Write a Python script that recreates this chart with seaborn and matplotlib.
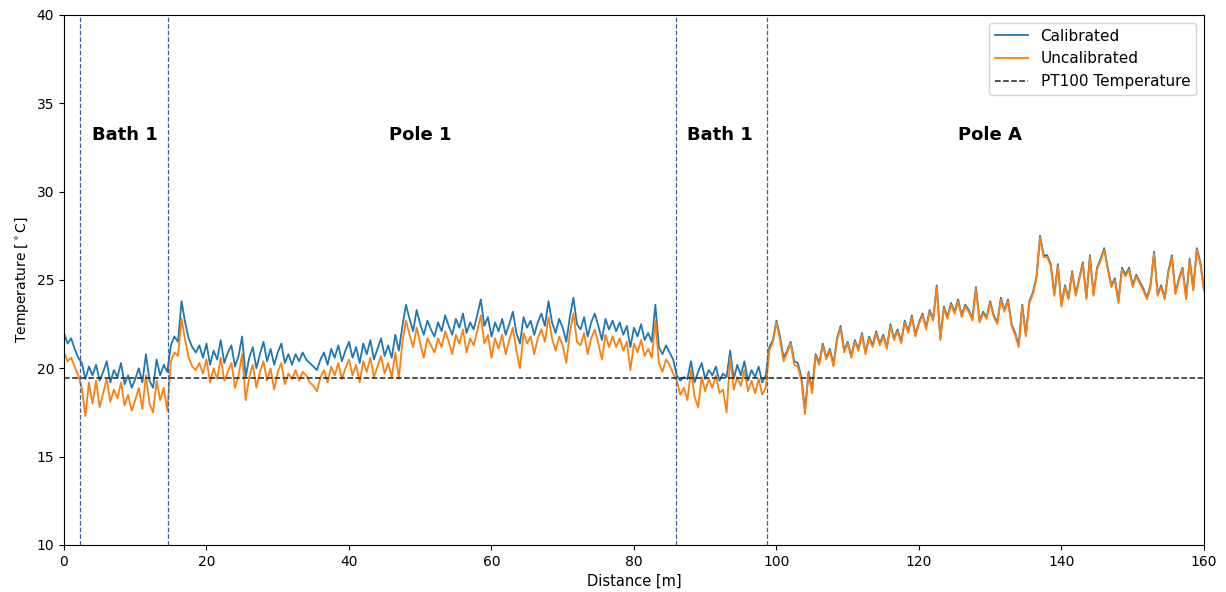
import numpy as np
import pandas as pd
import matplotlib
matplotlib.use("Agg")
import matplotlib.pyplot as plt
import seaborn as sns

# Fibre-optic temperature profile, sampled every 0.5 m along the cable (0 .. 160 m)
distance = np.arange(0, 160.5, 0.5)

calibrated = [
    # 0 - 2 m, lead-in
    22.0, 21.4, 21.7, 21.1, 20.6,
    # 2.5 - 14.5 m, bath 1
    20.3, 19.4, 20.1, 19.6, 20.2, 19.3, 19.8, 20.4, 19.2, 19.9, 19.5, 20.3, 19.1,
    19.6, 18.9, 19.4, 20.0, 19.2, 20.8, 19.3, 18.9, 20.5, 19.6, 20.2, 19.8,
    # 15 - 19 m
    21.3, 21.8, 21.5, 23.8, 22.6, 21.7, 21.2, 20.9, 21.3,
    # 19.5 - 31.5 m
    20.6, 21.4, 20.2, 21.0, 20.5, 21.6, 20.3, 20.9, 21.3, 20.1, 20.7, 21.8, 19.5,
    20.6, 21.2, 20.0, 20.8, 21.5, 20.4, 21.1, 20.2, 20.9, 21.4, 20.3, 20.8,
    # 32 - 47 m
    20.2, 20.8, 20.4, 20.9, 20.5, 20.3, 20.1, 19.9, 20.5, 20.9, 20.2, 21.1, 20.6,
    21.3, 20.4, 21.0, 21.5, 20.6, 21.2, 20.3, 21.4, 20.8, 21.6, 20.5, 21.1, 21.7,
    20.7, 21.3, 20.6, 21.9, 21.0,
    # 47.5 - 83 m
    22.4, 23.6, 22.8, 22.1, 23.3, 22.5, 21.9, 22.7, 22.2, 21.8,
    22.6, 22.1, 23.0, 22.4, 21.9, 22.8, 22.3, 23.1, 22.0, 22.6,
    22.2, 23.0, 23.9, 22.4, 22.9, 21.8, 22.6, 22.1, 22.8, 21.9,
    22.5, 23.2, 22.0, 21.4, 22.9, 22.3, 22.7, 21.9, 22.6, 23.1,
    22.4, 23.8, 22.6, 22.0, 22.8, 22.3, 21.5, 22.9, 24.0, 22.5,
    22.2, 22.9, 21.8, 22.6, 23.1, 22.4, 21.6, 22.8, 22.2, 22.7,
    22.1, 22.6, 21.9, 22.4, 21.2, 22.3, 21.8, 22.5, 21.6, 22.0, 21.5, 23.6,
    # 83.5 - 85.5 m
    21.2, 20.8, 21.3, 20.9, 20.5,
    # 86 - 98.5 m, bath 1 (second pass)
    19.6, 19.3, 19.5, 19.4, 20.4, 19.2, 19.8, 20.3, 19.4, 19.9, 19.6, 20.1, 19.3,
    19.7, 19.5, 21.0, 19.4, 20.2, 19.6, 20.4, 19.3, 19.9, 19.5, 20.1, 19.2, 19.6,
    # 99 - 105 m
    21.2, 21.6, 22.7, 21.8, 20.6, 21.0, 21.5, 20.4, 20.3, 19.5, 17.6, 19.8, 18.8,
    # 105.5 - 127 m
    20.8, 20.3, 21.4, 20.6, 21.1, 20.2, 21.7, 22.4, 21.0, 21.5,
    20.7, 21.6, 21.1, 22.0, 20.9, 21.8, 21.3, 22.1, 21.4, 21.9,
    21.2, 22.5, 21.7, 22.2, 21.5, 22.7, 22.1, 23.0, 21.9, 22.6,
    23.1, 22.3, 23.3, 22.8, 24.7, 21.7, 23.5, 22.9, 23.7, 23.2,
    23.9, 23.0, 23.6, 23.3,
    # 127.5 - 135.5 m
    22.8, 24.6, 22.7, 23.2, 22.9, 23.8, 23.0, 22.6, 24.0, 23.3, 23.9, 22.5, 22.0,
    21.3, 23.6, 21.9, 23.8,
    # 136 - 137.5 m
    24.3, 25.2, 27.5, 26.4,
    # 138 - 160 m
    26.4, 25.9, 24.2, 25.9, 23.6, 24.7, 24.0, 25.5, 24.2, 25.1, 26.0, 24.0, 26.4,
    24.2, 25.7, 26.2, 26.8, 25.7, 24.7, 25.1, 23.8, 25.7, 25.3, 25.7, 24.7, 25.3,
    24.9, 24.5, 24.0, 24.7, 26.6, 24.2, 24.7, 24.0, 25.5, 26.4, 24.3, 25.1, 25.7,
    24.0, 26.2, 24.5, 26.8, 26.0, 24.5,
]

uncalibrated = [
    # 0 - 2 m, lead-in
    20.9, 20.4, 20.6, 20.1, 19.6,
    # 2.5 - 14.5 m, bath 1
    18.9, 17.3, 19.2, 18.0, 19.3, 17.8, 18.6, 19.4, 18.1, 18.8, 18.3, 19.2, 17.9,
    18.5, 17.6, 18.2, 18.9, 17.7, 19.6, 18.0, 17.5, 19.3, 18.2, 18.9, 17.6,
    # 15 - 19 m
    20.4, 20.9, 20.7, 22.8, 21.6, 20.6, 20.1, 19.9, 20.3,
    # 19.5 - 31.5 m
    19.7, 20.5, 19.2, 20.0, 19.4, 20.6, 19.3, 19.8, 20.3, 18.9, 19.6, 20.8, 18.2,
    19.5, 20.2, 18.9, 19.8, 20.4, 19.3, 20.0, 18.8, 19.8, 20.3, 19.1, 19.7,
    # 32 - 47 m
    19.4, 19.9, 19.3, 19.8, 19.6, 19.2, 19.0, 18.7, 19.5, 19.9, 19.2, 20.1, 19.6,
    20.3, 19.4, 20.0, 20.5, 19.6, 20.2, 19.2, 20.4, 19.8, 20.6, 19.5, 20.1, 20.7,
    19.7, 20.3, 19.5, 20.9, 19.4,
    # 47.5 - 83 m
    21.5, 22.7, 21.9, 21.2, 22.3, 21.4, 20.6, 21.7, 21.3, 20.9,
    21.7, 21.2, 22.1, 21.5, 20.8, 21.9, 21.4, 22.2, 20.9, 21.7,
    21.3, 22.1, 23.0, 21.4, 21.9, 20.6, 21.7, 21.1, 21.9, 20.8,
    21.6, 22.3, 21.0, 20.0, 22.0, 21.4, 21.8, 20.8, 21.7, 22.2,
    21.5, 22.9, 21.7, 21.0, 21.8, 21.3, 20.3, 22.0, 23.1, 21.5,
    21.3, 22.0, 20.8, 21.7, 22.2, 21.4, 20.5, 21.9, 21.2, 21.8,
    21.2, 21.7, 21.0, 21.5, 19.9, 21.4, 20.9, 21.6, 20.7, 21.1, 20.6, 22.7,
    # 83.5 - 85.5 m
    20.3, 19.8, 20.5, 20.2, 19.7,
    # 86 - 98.5 m, bath 1 (second pass)
    19.3, 18.5, 18.9, 18.2, 19.9, 18.4, 17.8, 19.5, 18.7, 19.4, 18.9, 19.6, 18.6,
    18.8, 17.5, 20.6, 18.8, 19.5, 19.0, 19.9, 18.7, 19.3, 18.6, 19.4, 18.5, 18.9,
    # 99 - 105 m
    21.0, 21.5, 22.6, 21.6, 20.4, 20.9, 21.4, 20.2, 20.1, 19.3, 17.4, 19.7, 18.6,
    # 105.5 - 127 m
    20.7, 20.2, 21.3, 20.5, 21.0, 20.1, 21.6, 22.3, 20.9, 21.4,
    20.6, 21.5, 21.0, 21.9, 20.8, 21.7, 21.2, 22.0, 21.3, 21.8,
    21.1, 22.4, 21.6, 22.1, 21.4, 22.6, 22.0, 22.9, 21.8, 22.5,
    23.0, 22.2, 23.2, 22.7, 24.6, 21.6, 23.4, 22.8, 23.6, 23.1,
    23.8, 22.9, 23.5, 23.2,
    # 127.5 - 135.5 m
    22.7, 24.5, 22.6, 23.1, 22.8, 23.7, 22.9, 22.5, 23.9, 23.2, 23.8, 22.4, 21.9,
    21.2, 23.5, 21.8, 23.7,
    # 136 - 137.5 m
    24.2, 25.1, 27.4, 26.3,
    # 138 - 160 m
    26.3, 25.8, 24.1, 25.8, 23.5, 24.6, 23.9, 25.4, 24.1, 25.0, 25.9, 23.9, 26.3,
    24.1, 25.6, 26.1, 26.7, 25.6, 24.6, 25.0, 23.7, 25.6, 25.2, 25.6, 24.6, 25.2,
    24.8, 24.4, 23.9, 24.6, 26.5, 24.1, 24.6, 23.9, 25.4, 26.3, 24.2, 25.0, 25.6,
    23.9, 26.1, 24.4, 26.7, 25.9, 24.4,
]

pt100_temperature = 19.45

# Boundaries between the bath and pole sections of the cable
section_edges = [2.2, 14.6, 85.9, 98.7]
section_names = ["Bath 1", "Pole 1", "Bath 1", "Pole A"]
section_label_x = [8.6, 50.0, 92.1, 130.0]

assert len(calibrated) == len(distance) == len(uncalibrated)

df = pd.DataFrame({"Distance": distance,
                   "Calibrated": calibrated,
                   "Uncalibrated": uncalibrated})

fig = plt.figure(figsize=(12.26, 5.92), dpi=100)
ax = fig.add_axes([0.0522, 0.0794, 0.9298, 0.8953])

sns.lineplot(data=df, x="Distance", y="Calibrated", ax=ax,
             color="#1f77b4", linewidth=1.3, label="Calibrated")
sns.lineplot(data=df, x="Distance", y="Uncalibrated", ax=ax,
             color="#ff7f0e", linewidth=1.3, label="Uncalibrated")
ax.axhline(pt100_temperature, color="#222222", linestyle="--", linewidth=1.1,
           label="PT100 Temperature")

for edge in section_edges:
    ax.axvline(edge, color="#3a5fa8", linestyle="--", linewidth=0.9)

for name, xpos in zip(section_names, section_label_x):
    ax.text(xpos, 33.2, name, ha="center", va="center",
            fontsize=13, fontweight="bold")

ax.set_xlim(0, 160)
ax.set_ylim(10, 40)
ax.set_xticks(np.arange(0, 161, 20))
ax.set_yticks(np.arange(10, 41, 5))
ax.set_xlabel("Distance [m]", fontsize=10.5)
ax.set_ylabel(r"Temperature [$^\circ$C]")
ax.legend(loc="upper right", fontsize=11, handlelength=2.2)

fig.savefig("out.png", dpi=100)
